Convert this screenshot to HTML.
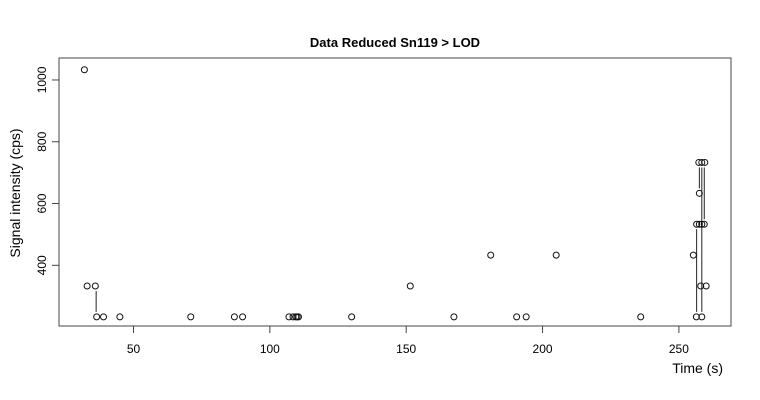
<!DOCTYPE html>
<html><head><meta charset="utf-8"><style>
body{margin:0;background:#fff;}
svg{display:block;font-family:"Liberation Sans",Arial,sans-serif;}
</style></head><body>
<svg id="chart" width="760" height="400" viewBox="0 0 760 400">
<text x="395" y="47" text-anchor="middle" font-size="13" font-weight="bold">Data Reduced Sn119 &gt; LOD</text>
<rect x="59" y="58" width="672" height="268" fill="none" stroke="#444" stroke-width="1"/>
<g id="xaxis"></g>
<g id="yaxis"></g>
<text x="723" y="373" text-anchor="end" font-size="14">Time (s)</text>
<text transform="translate(20,193) rotate(-90)" text-anchor="middle" font-size="14">Signal intensity (cps)</text>
<g id="segs"></g>
<g id="pts"></g>
</svg>
<script>
const times=[32,33,36,36.5,39,45,71,87,90,107,108.5,109.5,110,110.5,130,151.5,167.5,181,190.5,194,205,236,255.3,256.4,256.5,257.5,257.3,257.5,258,258.4,258.4,258.4,259.3,259.5,260];
const values=[1033,333,333,233,233,233,233,233,233,233,233,233,233,233,233,333,233,433,233,233,433,233,433,233,533,533,733,633,333,233,733,533,533,733,333];
const segT=[36.3,256.5,257.5,258.4,259.3];
const segFrom=[333,533,733,733,733];
const segTo=[233,233,633,233,533];
const xTicks=[50,100,150,200,250];
const yTicks=[400,600,800,1000];
const NS="http://www.w3.org/2000/svg";
function X(t){return 133.5+(t-50)*2.727;}
function Y(v){return 265.3-(v-400)*0.30889;}
function mk(tag,attrs,parent){const e=document.createElementNS(NS,tag);for(const k in attrs)e.setAttribute(k,attrs[k]);parent.appendChild(e);return e;}
const xa=document.getElementById('xaxis'),ya=document.getElementById('yaxis');
xTicks.forEach(t=>{
 const l=mk('line',{x1:X(t),x2:X(t),y1:326,y2:333,stroke:'#444'},xa);
 
 
 const tx=mk('text',{x:X(t),y:353,'text-anchor':'middle','font-size':'12'},xa);tx.textContent=t;
 
 
});
yTicks.forEach(v=>{
 const l=mk('line',{x1:52,x2:59,y1:Y(v),y2:Y(v),stroke:'#444'},ya);
 
 
 const tx=mk('text',{transform:`translate(46,${Y(v)}) rotate(-90)`,'text-anchor':'middle','font-size':'12'},ya);tx.textContent=v;
 
 
});
const sg=document.getElementById('segs');
segT.forEach((t,i)=>{
 const a=Y(segFrom[i])+5,b=Y(segTo[i])-5;
 const l=mk('line',{x1:X(t),x2:X(t),y1:a,y2:b,stroke:'#222','stroke-width':1},sg);
 
 
});
const pg=document.getElementById('pts');
times.forEach((t,i)=>{
 const c=mk('circle',{cx:X(t),cy:Y(values[i]),r:3,fill:'none',stroke:'#111','stroke-width':1},pg);
 
 
});
</script>
</body></html>
